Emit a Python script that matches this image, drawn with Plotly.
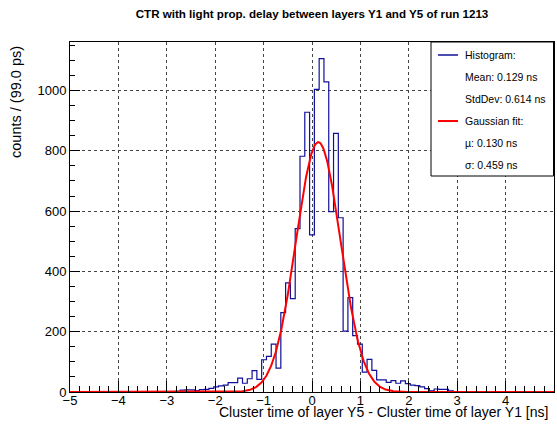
import numpy as np
import plotly.graph_objects as go

# ---- data ----
bin_low = -5.0
bin_width = 0.099  # ns
counts = [0]*20 + [1, 1,
          2, 6, 7, 7, 5, 8, 9, 12, 17, 20,
          23, 31, 31, 46, 29, 44, 71, 42, 107, 118,
          159, 79, 263, 362, 310, 542, 782, 928, 521, 1004,
          1106, 1029, 598, 858, 578, 202, 313, 187, 159, 66,
          108, 72, 40, 40, 32, 38, 29, 37, 28, 23,
          21, 17, 11, 4, 10, 9, 9, 4, 1, 1]
counts = counts + [0] * (101 - len(counts))

fit_amp = 829.0
fit_mu = 0.130
fit_sigma = 0.459

legend_lines = ["Histogram:", "Mean: 0.129 ns", "StdDev: 0.614 ns",
                "Gaussian fit:", "µ: 0.130 ns", "σ: 0.459 ns"]

title = "CTR with light prop. delay between layers Y1 and Y5 of run 1213"
xtitle = "Cluster time of layer Y5 - Cluster time of layer Y1 [ns]"
ytitle = "counts / (99.0 ps)"

# ---- figure ----
W, H = 557, 426
L, R, T, B = 70, 3, 42, 34
FONT = "Liberation Sans, Arial, sans-serif"

edges = bin_low + bin_width * np.arange(len(counts) + 1)
hx = list(edges)
hy = list(counts) + [counts[-1]]

fx = np.linspace(-5, 5, 1001)
fy = fit_amp * np.exp(-0.5 * ((fx - fit_mu) / fit_sigma) ** 2)

BLUE = "#10109a"
RED = "#ff0000"

fig = go.Figure()
fig.add_trace(go.Scatter(x=hx, y=hy, mode="lines", line=dict(color=BLUE, width=1.2, shape="hv"),
                         showlegend=False, hoverinfo="skip"))
fig.add_trace(go.Scatter(x=fx, y=fy, mode="lines", line=dict(color=RED, width=2),
                         showlegend=False, hoverinfo="skip"))

pw = W - L - R
ph = H - T - B

def px2x(px):
    return (px - L) / pw

def py2y(py):
    return (H - B - py) / ph

shapes = []
annotations = []
# legend box
shapes.append(dict(type="rect", xref="paper", yref="paper", x0=px2x(431), x1=px2x(553.5),
                   y0=py2y(176), y1=py2y(42), line=dict(color="black", width=1),
                   fillcolor="white", layer="above"))
row_top = 44
row_h = 22
for i, txt in enumerate(legend_lines):
    yc = py2y(row_top + row_h * (i + 0.5))
    if i == 0 or i == 3:
        col = BLUE if i == 0 else RED
        shapes.append(dict(type="line", xref="paper", yref="paper", x0=px2x(438), x1=px2x(458),
                           y0=yc, y1=yc, line=dict(color=col, width=1.5 if i == 0 else 2),
                           layer="above"))
    annotations.append(dict(text=txt, xref="paper", yref="paper", x=px2x(463), y=yc,
                            xanchor="left", yanchor="middle", showarrow=False,
                            font=dict(family=FONT, size=10.5, color="black")))

annotations.append(dict(text=xtitle, xref="paper", yref="paper", x=px2x(550), y=py2y(412),
                        xanchor="right", yanchor="middle", showarrow=False,
                        font=dict(family=FONT, size=14, color="black")))
annotations.append(dict(text=ytitle, xref="paper", yref="paper", x=px2x(16), y=py2y(102),
                        xanchor="center", yanchor="middle", textangle=-90, showarrow=False,
                        font=dict(family=FONT, size=14.5, color="black")))

fig.update_layout(
    width=W, height=H,
    margin=dict(l=L, r=R, t=T, b=B, pad=0),
    paper_bgcolor="white", plot_bgcolor="white",
    title=dict(text="<b>" + title + "</b>", x=312 / W, xanchor="center",
               y=1 - 14 / H, yanchor="middle",
               font=dict(family=FONT, size=11.6, color="black")),
    shapes=shapes, annotations=annotations,
    showlegend=False,
)
fig.update_xaxes(range=[-5, 5], tickmode="linear", tick0=-5, dtick=1,
                 ticks="inside", ticklen=11, tickcolor="black", tickwidth=1,
                 minor=dict(dtick=0.2, tick0=-5, ticks="inside", ticklen=6, tickcolor="black",
                            showgrid=False),
                 showgrid=True, gridcolor="#444444", griddash="dot", gridwidth=1,
                 showline=True, linecolor="black", linewidth=1, mirror=True,
                 zeroline=False, ticklabelstandoff=-4,
                 tickfont=dict(family=FONT, size=13, color="black"))
fig.update_yaxes(range=[0, 1161], tickmode="linear", tick0=0, dtick=200,
                 ticks="inside", ticklen=10, tickcolor="black", tickwidth=1,
                 minor=dict(dtick=50, tick0=0, ticks="inside", ticklen=5, tickcolor="black",
                            showgrid=False),
                 showgrid=True, gridcolor="#444444", griddash="dot", gridwidth=1,
                 showline=True, linecolor="black", linewidth=1, mirror=True,
                 zeroline=False,
                 tickfont=dict(family=FONT, size=13, color="black"))

fig.write_html("out.html")
